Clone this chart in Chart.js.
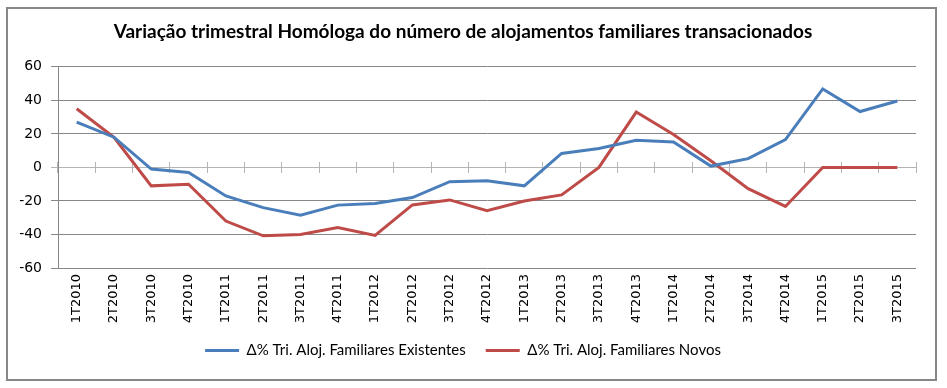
<!DOCTYPE html>
<html>
<head>
    <title>Variação trimestral Homóloga</title>
    <script src="https://cdn.jsdelivr.net/npm/chart.js"></script>
    <style>
        body { margin: 0; background: #fff; }
        .frame { position: absolute; left: 6px; top: 7px; width: 931px; height: 374px;
                 box-sizing: border-box; border: 2px solid #878787; }
        .chart-container { position: absolute; left: 0; top: 0; width: 947px; height: 388px; }
    </style>
</head>
<body>
    <div class="frame"></div>
    <div class="chart-container">
        <canvas id="chart"></canvas>
    </div>

    <script>
        const quarters = ['1T2010', '2T2010', '3T2010', '4T2010', '1T2011', '2T2011', '3T2011', '4T2011',
            '1T2012', '2T2012', '3T2012', '4T2012', '1T2013', '2T2013', '3T2013', '4T2013',
            '1T2014', '2T2014', '3T2014', '4T2014', '1T2015', '2T2015', '3T2015'];
        const existentes = [27, 18, -1, -3, -17, -24, -28.5, -22.5, -21.5, -18, -8.5, -8, -11, 8.3, 11.3, 16.2,
            15.2, 0.8, 5.2, 16.6, 46.8, 33.3, 39.6];
        const novos = [35, 18, -11, -10, -32, -40.8, -40, -35.8, -40.6, -22.4, -19.4, -25.8, -20, -16.4, 0, 33,
            19.6, 4, -12.7, -23.3, 0, 0, 0];
        const yTicks = [-60, -40, -20, 0, 20, 40, 60];

        const axisGray = '#878787';
        const zeroGray = '#b4b4b4';

        const ctx = document.getElementById('chart').getContext('2d');
        new Chart(ctx, {
            type: 'line',
            data: {
                labels: quarters,
                datasets: [{
                    label: 'Δ% Tri. Aloj. Familiares Existentes',
                    data: existentes,
                    borderColor: '#4a7ebb',
                    backgroundColor: '#4a7ebb',
                    borderWidth: 3,
                    pointRadius: 0,
                    tension: 0
                }, {
                    label: 'Δ% Tri. Aloj. Familiares Novos',
                    data: novos,
                    borderColor: '#be4b48',
                    backgroundColor: '#be4b48',
                    borderWidth: 3,
                    pointRadius: 0,
                    tension: 0
                }]
            },
            options: {
                responsive: true,
                maintainAspectRatio: false,
                animation: false,
                layout: { padding: { left: 10, right: 31, top: 0, bottom: 20 } },
                plugins: {
                    title: {
                        display: true,
                        text: 'Variação trimestral Homóloga do número de alojamentos familiares transacionados',
                        color: '#000',
                        font: { family: 'Lato', size: 19, weight: 'bold' },
                        padding: { top: 20, bottom: 24 }
                    },
                    legend: {
                        position: 'bottom',
                        labels: {
                            usePointStyle: true,
                            pointStyle: 'line',
                            pointStyleWidth: 34,
                            padding: 20,
                            color: '#000',
                            font: { family: 'Lato', size: 15 }
                        }
                    },
                    tooltip: { enabled: false }
                },
                scales: {
                    x: {
                        offset: true,
                        grid: { display: false, drawTicks: false },
                        border: { display: false },
                        ticks: {
                            autoSkip: false, maxRotation: 90, minRotation: 90, padding: 6,
                            color: '#000', font: { family: 'DejaVu Sans', size: 13 }
                        },
                        afterFit: s => { s.height = 55; }
                    },
                    xZeroDown: {
                        type: 'category',
                        labels: quarters,
                        position: { y: 0 },
                        offset: true,
                        grid: { display: true, drawOnChartArea: false, offset: true, tickLength: 5, color: zeroGray },
                        border: { display: true, color: zeroGray },
                        ticks: { display: false }
                    },
                    xZeroUp: {
                        type: 'category',
                        labels: quarters,
                        position: { y: 0 },
                        offset: true,
                        grid: { display: true, drawOnChartArea: false, offset: true, tickLength: -5, color: zeroGray },
                        border: { display: false },
                        ticks: { display: false }
                    },
                    y: {
                        min: -60,
                        max: 60,
                        afterBuildTicks: s => { s.ticks = yTicks.map(v => ({ value: v })); },
                        grid: {
                            color: c => c.tick && c.tick.value === 0 ? zeroGray : axisGray,
                            tickLength: 7
                        },
                        border: { display: true, color: axisGray },
                        ticks: { padding: 9, color: '#000', font: { family: 'DejaVu Sans', size: 14 } },
                        afterFit: s => { s.width = 48; }
                    }
                }
            }
        });
    </script>
</body>
</html>
